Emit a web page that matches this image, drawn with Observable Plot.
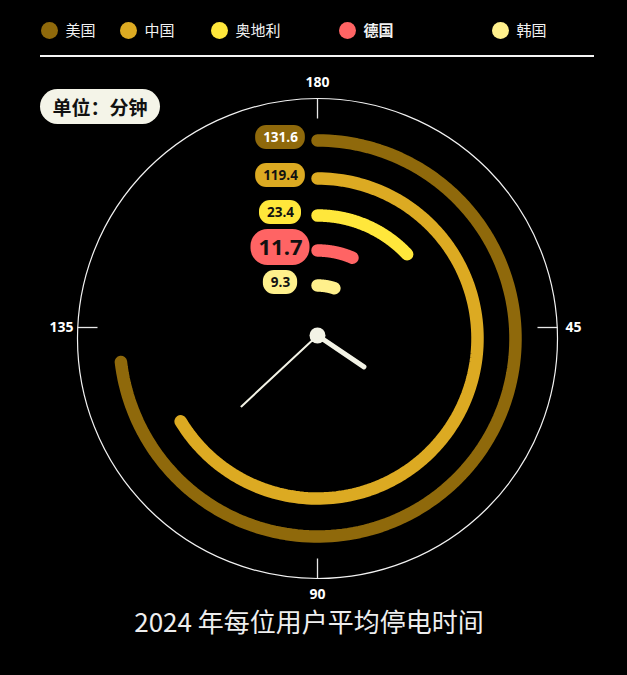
<!DOCTYPE html>
<html><head><meta charset="utf-8">
<script src="https://cdn.jsdelivr.net/npm/d3@7"></script>
<script src="https://cdn.jsdelivr.net/npm/@observablehq/plot@0.6"></script>
<style>
html,body{margin:0;padding:0;background:#000;}
#wrap{position:relative;width:627px;height:675px;background:#000;font-family:"Noto Sans CJK SC","Noto Sans",sans-serif;overflow:hidden}
#legend{position:relative;height:58px}
.item{position:absolute;top:20px;height:20px;display:flex;align-items:center;color:#f2f2f2;font-size:15px;line-height:20px;white-space:nowrap}
.item.hl{font-weight:700}
.dot{width:17px;height:17px;border-radius:50%;margin-right:8px;flex:none}
#rule{position:absolute;left:40px;top:55px;width:554px;height:2px;background:#f5f5f5}
#unit{position:absolute;left:40px;top:89px;width:120px;height:35px;border-radius:18px;background:#f4f4e8;color:#111;font-weight:700;font-size:19px;line-height:35px;text-align:center}
#chart svg{display:block}
#title{text-align:center;color:#eee;font-size:26px;line-height:30px;padding-right:9px}
</style></head>
<body>
<div id="wrap">
  <div id="legend"><div id="rule"></div></div>
  <div id="chart"></div>
  <div id="title"></div>
  <div id="unit"></div>
</div>
<script>
// ---- data ----
const countries = ["美国", "中国", "奥地利", "德国", "韩国"];
const minutes = [131.6, 119.4, 23.4, 11.7, 9.3];
const colors = ["#8f690b", "#dcaa22", "#ffe73b", "#ff6464", "#fff08c"];
const highlight = "德国";
const tickValues = [180, 45, 90, 135];
const fullCircle = 180;
const titleText = "2024 年每位用户平均停电时间";
const unitText = "单位：分钟";
const handAngles = [124, 227];   // degrees, clockwise from top
// ---- layout ----
const legendDotX = [49, 128, 219, 347, 500];
const ringR = [198, 160, 123, 88, 53];
const handLen = [56, 104];
const handWidth = [5, 2];
const W = 627, H = 548, CX = 317, CY = 280;
const faceR = 240, tickLen = 20, labelR = 256;

// legend
const legend = document.getElementById("legend");
countries.forEach((c, i) => {
  const it = document.createElement("div");
  it.className = "item" + (c === highlight ? " hl" : "");
  it.style.left = (legendDotX[i] - 8.5) + "px";
  const d = document.createElement("span");
  d.className = "dot"; d.style.background = colors[i];
  it.appendChild(d);
  it.appendChild(document.createTextNode(c));
  legend.appendChild(it);
});
document.getElementById("title").textContent = titleText;
document.getElementById("unit").textContent = unitText;

const rad = v => v / fullCircle * 2 * Math.PI;
const polar = (r, a) => ({x: r * Math.sin(a), y: r * Math.cos(a)});

// arcs
const arcData = countries.flatMap((c, i) => {
  const n = 160;
  return d3.range(n + 1).map(k => ({country: c, ...polar(ringR[i], rad(minutes[i] * k / n))}));
});

// badges
const ctx = document.createElement("canvas").getContext("2d");
function tw(t, size) { ctx.font = `700 ${size}px "Open Sans"`; return ctx.measureText(t).width; }
const badgeCX = -37;
const badges = countries.map((c, i) => {
  const hl = c === highlight;
  const size = hl ? 22 : 13.5;
  const label = String(minutes[i]);
  const w = tw(label, size) + 15;
  const h = hl ? 36 : 24;
  const yc = ringR[i] + 3;
  return {country: c, label, size, hl, x1: badgeCX - w / 2, x2: badgeCX + w / 2, y1: yc - h / 2, y2: yc + h / 2, xc: badgeCX, yc,
    dark: d3.lab(colors[i]).l < 55};
});

// ticks
const ticks = tickValues.map(v => {
  const a = rad(v);
  const o = polar(faceR, a), inn = polar(faceR - tickLen, a), l = polar(labelR, a);
  return {v, x1: inn.x, y1: inn.y, x2: o.x, y2: o.y, lx: l.x, ly: l.y, horiz: Math.abs(Math.sin(a)) > 0.5};
});

// hands
const hub = {x: 0, y: 3};
const hands = handAngles.map((deg, i) => {
  const a = deg / 180 * Math.PI;
  return {x1: hub.x, y1: hub.y, x2: hub.x + handLen[i] * Math.sin(a), y2: hub.y + handLen[i] * Math.cos(a), w: handWidth[i]};
});

const font = '"Open Sans", "Noto Sans", sans-serif';
const plot = Plot.plot({
  width: W, height: H, margin: 0,
  style: {background: "#000", color: "#fff", fontFamily: font},
  x: {domain: [-CX, W - CX], axis: null},
  y: {domain: [-(H - CY), CY], axis: null},
  color: {domain: countries, range: colors},
  marks: [
    Plot.dot([0], {x: () => 0, y: () => 0, r: faceR, stroke: "#f2f2f2", strokeWidth: 1.2, fill: "none"}),
    Plot.link(ticks.filter(d => !d.horiz), {x1: "x1", y1: "y1", x2: "x2", y2: "y2", stroke: "#e8e8e8", strokeWidth: 1.3}),
    Plot.link(ticks.filter(d => d.horiz), {x1: "x1", y1: "y1", x2: "x2", y2: "y2", stroke: "#e8e8e8", strokeWidth: 1.3, dy: -11}),
    Plot.text(ticks.filter(d => !d.horiz), {x: "lx", y: "ly", text: d => String(d.v), fill: "#fff", fontSize: 14, fontWeight: 700}),
    Plot.text(ticks.filter(d => d.horiz), {x: "lx", y: "ly", text: d => String(d.v), fill: "#fff", fontSize: 14, fontWeight: 700, dy: -11}),
    Plot.line(arcData, {x: "x", y: "y", z: "country", stroke: "country", strokeWidth: 12.5, strokeLinecap: "round", strokeLinejoin: "round"}),
    Plot.rect(badges.filter(d => !d.hl), {x1: "x1", x2: "x2", y1: "y1", y2: "y2", fill: "country", rx: 11}),
    Plot.rect(badges.filter(d => d.hl), {x1: "x1", x2: "x2", y1: "y1", y2: "y2", fill: "country", rx: 17}),
    Plot.text(badges.filter(d => !d.hl && d.dark), {x: "xc", y: "yc", text: "label", fill: "#fff", fontSize: 13.5, fontWeight: 700}),
    Plot.text(badges.filter(d => !d.hl && !d.dark), {x: "xc", y: "yc", text: "label", fill: "#111", fontSize: 13.5, fontWeight: 700}),
    Plot.text(badges.filter(d => d.hl), {x: "xc", y: "yc", text: "label", fill: "#111", fontSize: 22, fontWeight: 700}),
    Plot.link(hands.filter(d => d.w > 3), {x1: "x1", y1: "y1", x2: "x2", y2: "y2", stroke: "#f3f3e6", strokeWidth: 5, strokeLinecap: "round"}),
    Plot.link(hands.filter(d => d.w <= 3), {x1: "x1", y1: "y1", x2: "x2", y2: "y2", stroke: "#f3f3e6", strokeWidth: 2, strokeLinecap: "round"}),
    Plot.dot([hub], {x: "x", y: "y", r: 8, fill: "#f3f3e6"})
  ]
});
document.getElementById("chart").appendChild(plot);
</script>
</body></html>
